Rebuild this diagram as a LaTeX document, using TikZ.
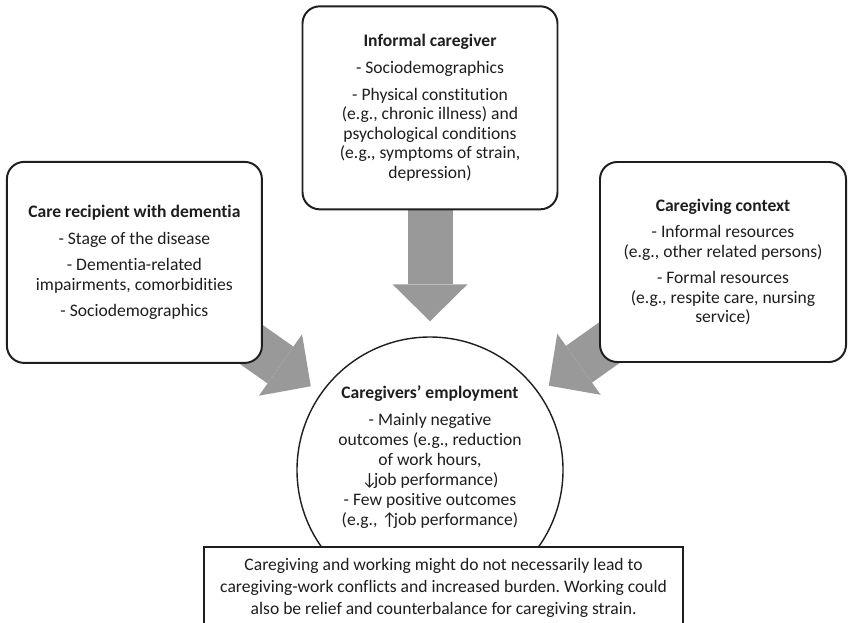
\documentclass[tikz,border=0pt]{standalone}
\usepackage{fontspec}
\setmainfont[Ligatures=NoCommon]{Carlito}
\usepackage{tikz}
\usetikzlibrary{arrows.meta, positioning, backgrounds}
\definecolor{arrowgray}{RGB}{153,153,153}
\definecolor{ink}{RGB}{30,30,30}
\frenchspacing
\tikzset{%
	box/.style={draw=ink, line width=1.4pt, rectangle, rounded corners=0.43cm, fill=white,%
		align=center, inner sep=0mm, text=ink, font=\fontsize{12.5}{13.9}\selectfont},
	hub/.style={draw=ink, line width=1pt, circle, fill=white, minimum size=6.65cm, inner sep=0mm},
	hubtext/.style={align=center, inner sep=0mm, text=ink, font=\fontsize{12.5}{14.2}\selectfont},
	note/.style={draw=ink, line width=1.3pt, rectangle, fill=white, align=center, text=ink,%
		minimum width=11.975cm, minimum height=2.05cm, inner sep=0mm, font=\fontsize{12.5}{15.6}\selectfont},
	fat/.style={draw=arrowgray, line width=1.125cm,%
		-{Triangle[length=0.925cm, width=1.875cm, line width=0pt]}}
}

\begin{document}
\begin{tikzpicture}
	\useasboundingbox (0,0) rectangle (21.2,-15.55);
	\node[hub] (emp) at (10.75,-11.75) {};
	\node[hubtext] (emptxt) at (10.75,-11.43) {\textbf{Caregivers’ employment}\\[5pt]
		- Mainly negative\\outcomes (e.g., reduction\\of work hours,\\↓\kern-0.2em job performance)\\
		- Few positive outcomes\\(e.g., ↑\kern-0.2em job performance)};
	\node[box, minimum width=6.375cm, minimum height=5.075cm, above=3.15cm of emp] (inf)
		{\textbf{Informal caregiver}\\[5pt]- Sociodemographics\\[5pt]- Physical constitution\\
		(e.g., chronic illness) and\\psychological conditions\\(e.g., symptoms of strain,\\depression)};
	\node[box, minimum width=6.375cm, minimum height=5.025cm] (rec) at (3.36,-6.56)
		{\textbf{Care recipient with dementia}\\[5pt]- Stage of the disease\\[5pt]- Dementia-related\\
		impairments, comorbidities\\[5pt]- Sociodemographics};
	\node[box, minimum width=6.15cm, minimum height=5cm] (ctx) at (18.075,-6.55)
		{\textbf{Caregiving context}\\[5pt]- Informal resources\\(e.g., other related persons)\\[5pt]
		- Formal resources\\(e.g., respite care, nursing\\service)};
	\node[note, anchor=north] (msg) at (11.09,-13.65)
		{Caregiving and working might do not necessarily lead to\\
		caregiving-work conflicts and increased burden. Working could\\
		also be relief and counterbalance for caregiving strain.};
	\begin{scope}[on background layer]
		\draw[fat, shorten >=0.375cm] (inf.center) -- (emp);
		\draw[fat, shorten >=0.3cm] (rec.center) -- (emp);
		\draw[fat, shorten >=0.3cm] (ctx.center) -- (emp);
	\end{scope}
\end{tikzpicture}
\end{document}
